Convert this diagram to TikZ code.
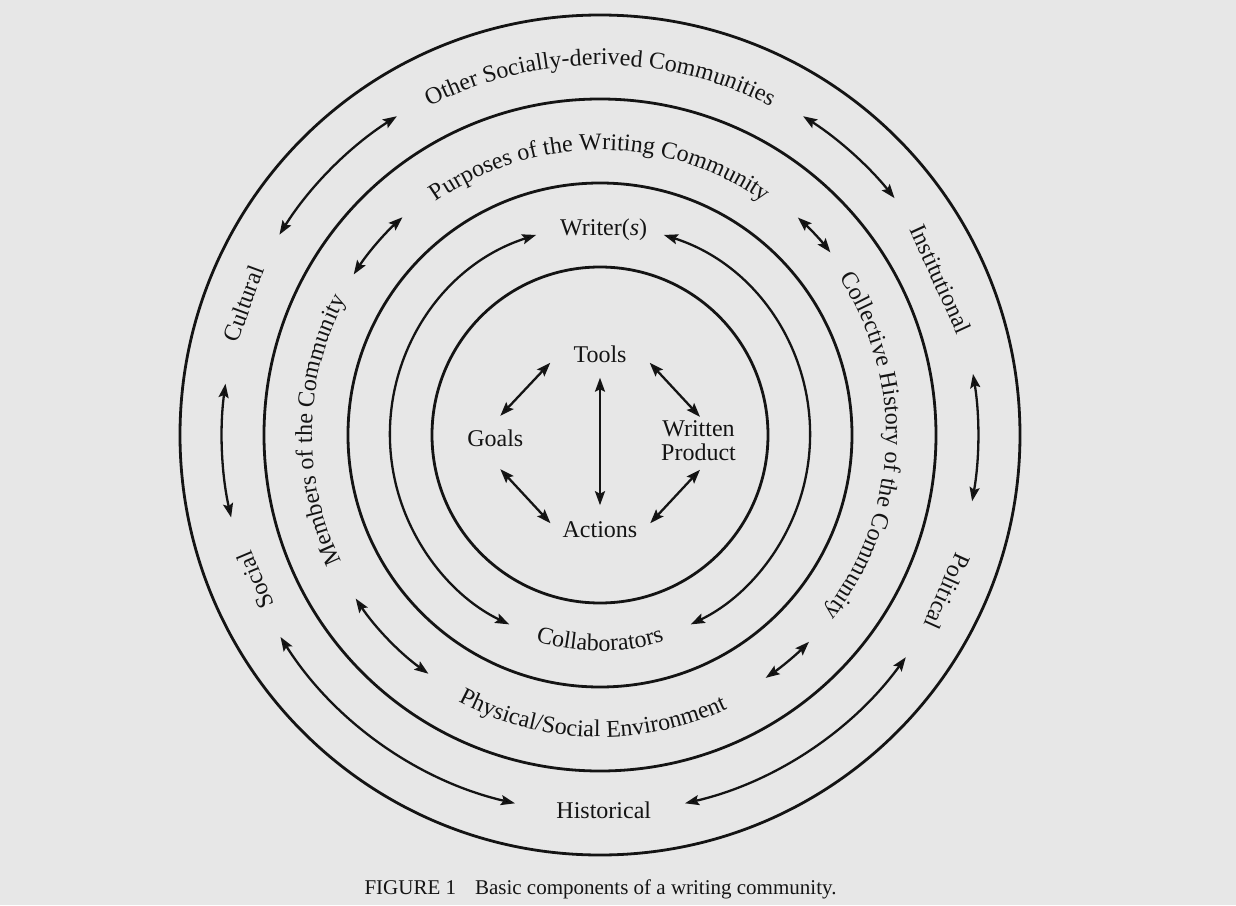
\documentclass[tikz,border=0pt]{standalone}
\usepackage{fontspec}
\setmainfont{Liberation Serif}
\usetikzlibrary{arrows.meta,decorations.text}
\definecolor{bgc}{RGB}{231,231,231}
\definecolor{ink}{RGB}{20,20,20}
\newcommand\ringfont{\fontsize{24}{23.4}\selectfont}
\begin{document}
\begin{tikzpicture}[x=1pt,y=1pt,
  ring/.style={draw=ink, line width=2.8pt},
  dbl/.style={draw=ink, line width=2.3pt,
    {Stealth[length=14pt,width=10pt,inset=2.5pt]}-{Stealth[length=14pt,width=10pt,inset=2.5pt]}},
  lbl/.style={font=\ringfont, text=ink, inner sep=0pt},
  curved/.style={decorate, decoration={text along path, text align=center, text color=ink}}]
\fill[bgc] (-600,-470) rectangle (636,435);
\useasboundingbox (-600,-470) rectangle (636,435);
\coordinate (c) at (0,0);
% rings
\foreach \r in {168,252,336,420} \draw[ring] (c) circle[radius=\r];
% curved labels
\path[curved, decoration={text={|\ringfont|Other Socially-derived Communities}}]
  (150:370) arc[start angle=150, end angle=30, radius=370];
\path[curved, decoration={text={|\ringfont|Purposes of the Writing Community}}]
  (150:285) arc[start angle=150, end angle=30, radius=285];
\path[curved, decoration={text={|\ringfont|Collective History of the Community}}]
  (57.4:286) arc[start angle=57.4, end angle=-62.6, radius=286];
\path[curved, decoration={text={|\ringfont|Members of the Community}}]
  (239:288) arc[start angle=239, end angle=119, radius=288];
\path[curved, decoration={text={|\ringfont|Physical/Social Environment}}]
  (208.5:302) arc[start angle=208.5, end angle=328.5, radius=302];
\path[curved, decoration={text={|\ringfont|Collaborators}}]
  (200:216) arc[start angle=200, end angle=340, radius=216];
% straight labels
\node[lbl, rotate=69.8] (cultural) at (159.8:380) {Cultural};
\node[lbl, rotate=112.8] (social) at (202.8:374) {Social};
\node[lbl, rotate=-65.4] (institutional) at (24.6:375) {Institutional};
\node[lbl, rotate=-114.25] (political) at (-24.25:381) {Political};
\node[lbl] (historical) at (3.8,-375) {Historical};
\node[lbl] (writers) at (3.7,205) {Writer(\textit{s})};
\node[lbl, anchor=base] (tools) at (0,72.3) {Tools};
\node[lbl, anchor=base] (goals) at (-104.7,-11.7) {Goals};
\node[lbl, align=center] (written) at (98.5,-5.8) {Written\\Product};
\node[lbl, anchor=base] (actions) at (0,-102.3) {Actions};
% ring arrows
\foreach \n/\a/\b/\r in {o1/122.5/148/378, o2/57.5/38.8/378, o3/172.2/192.6/378,
    o4/9.3/-10.1/378, o5/212.3/257/378, o6/283/324/378,
    m1/132.2/146.9/294, m2/47.7/38.4/294, m3/213.8/234.3/294, m4/304.3/315.3/294,
    i1/107.7/244.4/210, i2/72.3/-64.4/210}
  {\coordinate (\n) at (\a:\r);
   \draw[dbl] (\n) arc[start angle=\a, end angle=\b, radius=\r];}
% inner arrows
\draw[dbl] ([xshift=-23pt]tools.base west) -- ([shift={(5,14)}]goals.north);
\draw[dbl] ([xshift=23pt]tools.base east) -- ([shift={(1.5,4)}]written.north);
\draw[dbl] ([shift={(5,-22)}]goals.south) -- ([shift={(-12,-2)}]actions.north west);
\draw[dbl] ([shift={(1.5,-9)}]written.south) -- ([shift={(12.7,-2)}]actions.north east);
\draw[dbl] ([yshift=-15pt]tools.base) -- ([yshift=16pt]actions.north);
% caption
\node[font=\fontsize{21}{21}\selectfont, anchor=base, text=ink, inner sep=0pt] (caption)
  at (0.5,-459) {FIGURE 1\hspace{0.9em}Basic components of a writing community.};
\end{tikzpicture}
\end{document}
